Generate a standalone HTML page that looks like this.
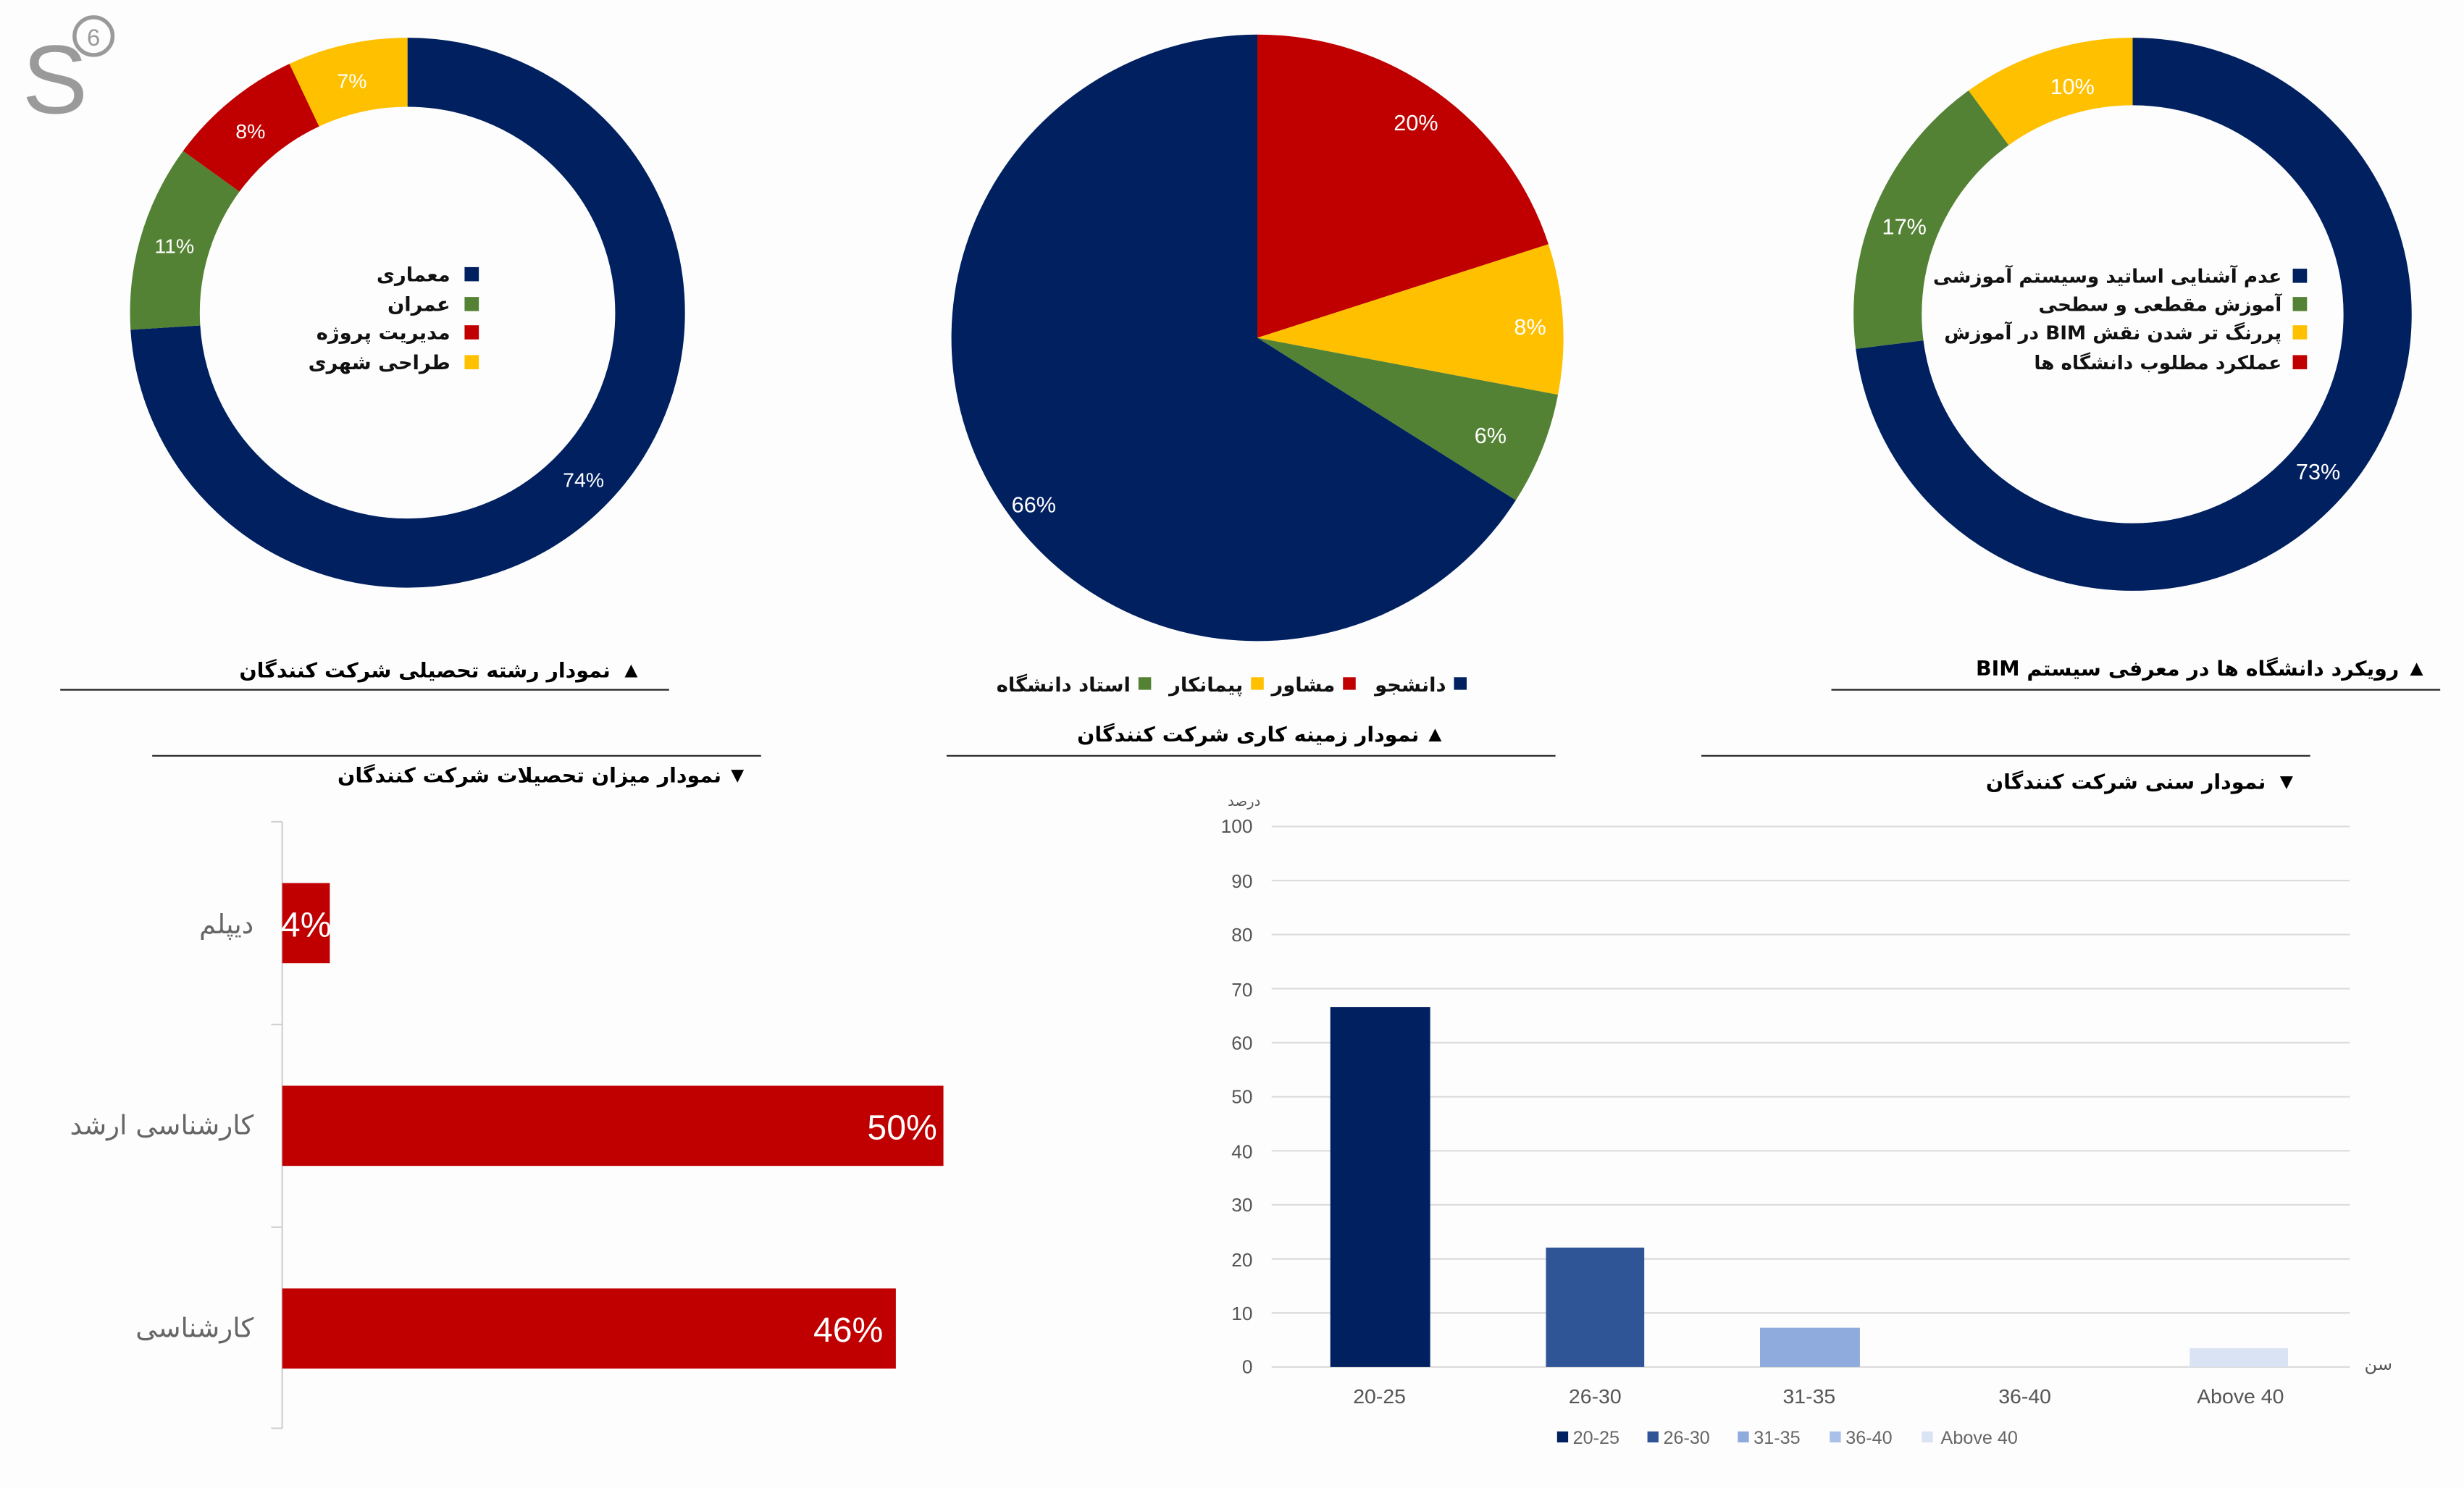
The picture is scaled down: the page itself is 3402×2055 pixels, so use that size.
<!DOCTYPE html>
<html><head><meta charset="utf-8"><style>
html,body{margin:0;padding:0;background:#fff;}
svg{display:block;}
.fa{font-family:"DejaVu Sans","Liberation Sans",sans-serif;}
.la{font-family:"Liberation Sans","DejaVu Sans",sans-serif;}
</style></head><body>
<svg width="3402" height="2055" viewBox="0 0 1554 947" preserveAspectRatio="none" xmlns="http://www.w3.org/2000/svg">
<rect width="1554" height="947" fill="#fdfdfd"/>
<!-- logo -->
<text x="14" y="72" class="la" font-size="62" fill="#9a9a9a">S</text>
<circle cx="59" cy="23" r="12" fill="none" stroke="#9a9a9a" stroke-width="2.5"/>
<text x="59" y="29" class="la" font-size="15" fill="#9a9a9a" text-anchor="middle">6</text>

<!-- Donut 1 -->
<g transform="rotate(-90 257 199)" fill="none" stroke-width="44">
<circle cx="257" cy="199" r="153" stroke="#002060" stroke-dasharray="711.4 961.3" stroke-dashoffset="0"/>
<circle cx="257" cy="199" r="153" stroke="#548235" stroke-dasharray="105.7 961.3" stroke-dashoffset="-711.4"/>
<circle cx="257" cy="199" r="153" stroke="#c00000" stroke-dasharray="76.9 961.3" stroke-dashoffset="-817.1"/>
<circle cx="257" cy="199" r="153" stroke="#ffc000" stroke-dasharray="67.3 961.3" stroke-dashoffset="-894.0"/>
</g>
<g class="la" font-size="13" fill="#fff" text-anchor="middle">
<text x="368" y="310">74%</text><text x="110" y="161">11%</text><text x="158" y="88">8%</text><text x="222" y="56">7%</text>
</g>
<g class="fa" font-size="12.5" font-weight="bold" fill="#111" text-anchor="end">
<rect x="293" y="170" width="9" height="9" fill="#002060"/><text x="284" y="179">معماری</text>
<rect x="293" y="189" width="9" height="9" fill="#548235"/><text x="284" y="198">عمران</text>
<rect x="293" y="207" width="9" height="9" fill="#c00000"/><text x="284" y="216">مدیریت پروژه</text>
<rect x="293" y="226" width="9" height="9" fill="#ffc000"/><text x="284" y="235">طراحی شهری</text>
</g>
<text x="405" y="431" class="la" font-size="14" text-anchor="end">▲</text>
<text x="385" y="431" class="fa" font-size="13" font-weight="bold" text-anchor="end">نمودار رشته تحصیلی شرکت کنندگان</text>
<line x1="38" y1="439" x2="422" y2="439" stroke="#222" stroke-width="1"/>

<!-- Pie -->
<path d="M793 215 L793 22 A193 193 0 0 1 976.6 155.4 Z" fill="#c00000"/>
<path d="M793 215 L976.6 155.4 A193 193 0 0 1 982.6 251.2 Z" fill="#ffc000"/>
<path d="M793 215 L982.6 251.2 A193 193 0 0 1 956.0 318.4 Z" fill="#548235"/>
<path d="M793 215 L956.0 318.4 A193 193 0 1 1 793 22 Z" fill="#002060"/>
<g class="la" font-size="14" fill="#fff" text-anchor="middle">
<text x="893" y="83">20%</text><text x="965" y="213">8%</text><text x="940" y="282">6%</text><text x="652" y="326">66%</text>
</g>
<g class="fa" font-size="12.5" font-weight="bold" fill="#111" text-anchor="end">
<rect x="917" y="431" width="8" height="8" fill="#002060"/><text x="912" y="440">دانشجو</text>
<rect x="847" y="431" width="8" height="8" fill="#c00000"/><text x="842" y="440">مشاور</text>
<rect x="789" y="431" width="8" height="8" fill="#ffc000"/><text x="784" y="440">پیمانکار</text>
<rect x="718" y="431" width="8" height="8" fill="#548235"/><text x="713" y="440">استاد دانشگاه</text>
</g>
<text x="912" y="472" class="la" font-size="14" text-anchor="end">▲</text>
<text x="895" y="472" class="fa" font-size="13" font-weight="bold" text-anchor="end">نمودار زمینه کاری شرکت کنندگان</text>
<line x1="597" y1="481" x2="981" y2="481" stroke="#222" stroke-width="1"/>

<!-- Donut 3 -->
<g transform="rotate(-90 1345 200)" fill="none" stroke-width="43">
<circle cx="1345" cy="200" r="154.5" stroke="#002060" stroke-dasharray="708.6 970.8" stroke-dashoffset="0"/>
<circle cx="1345" cy="200" r="154.5" stroke="#548235" stroke-dasharray="165.0 970.8" stroke-dashoffset="-708.6"/>
<circle cx="1345" cy="200" r="154.5" stroke="#ffc000" stroke-dasharray="97.2 970.8" stroke-dashoffset="-873.6"/>
</g>
<g class="la" font-size="14" fill="#fff" text-anchor="middle">
<text x="1462" y="305">73%</text><text x="1201" y="149">17%</text><text x="1307" y="60">10%</text>
</g>
<g class="fa" font-size="12" font-weight="bold" fill="#111" text-anchor="end">
<rect x="1446" y="171" width="9" height="9" fill="#002060"/><text x="1439" y="180">عدم آشنایی اساتید وسیستم آموزشی</text>
<rect x="1446" y="189" width="9" height="9" fill="#548235"/><text x="1439" y="198">آموزش مقطعی و سطحی</text>
<rect x="1446" y="207" width="9" height="9" fill="#ffc000"/><text x="1439" y="216" direction="rtl" text-anchor="start">پررنگ تر شدن نقش BIM در آموزش</text>
<rect x="1446" y="226" width="9" height="9" fill="#c00000"/><text x="1439" y="235">عملکرد مطلوب دانشگاه ها</text>
</g>
<text x="1531" y="430" class="la" font-size="14" text-anchor="end">▲</text>
<text x="1513" y="430" class="fa" font-size="13" font-weight="bold" direction="rtl" text-anchor="start">رویکرد دانشگاه ها در معرفی سیستم BIM</text>
<line x1="1155" y1="439" x2="1539" y2="439" stroke="#222" stroke-width="1"/>

<!-- Bottom-left horizontal bars -->
<line x1="96" y1="481" x2="480" y2="481" stroke="#222" stroke-width="1"/>
<text x="472" y="498" class="la" font-size="14" text-anchor="end">▼</text>
<text x="455" y="498" class="fa" font-size="13" font-weight="bold" text-anchor="end">نمودار میزان تحصیلات شرکت کنندگان</text>
<g stroke="#d0d0d0" stroke-width="1">
<line x1="178" y1="523" x2="178" y2="909"/>
<line x1="171" y1="523" x2="178" y2="523"/><line x1="171" y1="652" x2="178" y2="652"/>
<line x1="171" y1="781" x2="178" y2="781"/><line x1="171" y1="909" x2="178" y2="909"/>
</g>
<rect x="178" y="562" width="30" height="51" fill="#c00000"/>
<rect x="178" y="691" width="417" height="51" fill="#c00000"/>
<rect x="178" y="820" width="387" height="51" fill="#c00000"/>
<g class="la" font-size="22" fill="#fff" text-anchor="end">
<text x="209" y="596">4%</text><text x="591" y="725">50%</text><text x="557" y="854">46%</text>
</g>
<g class="fa" font-size="17" fill="#666" text-anchor="end">
<text x="160" y="594">دیپلم</text><text x="160" y="722">کارشناسی ارشد</text><text x="160" y="851">کارشناسی</text>
</g>

<!-- Column chart -->
<line x1="1073" y1="481" x2="1457" y2="481" stroke="#222" stroke-width="1"/>
<text x="1449" y="502" class="la" font-size="14" text-anchor="end">▼</text>
<text x="1429" y="502" class="fa" font-size="13" font-weight="bold" text-anchor="end">نمودار سنی شرکت کنندگان</text>
<text x="795" y="513" class="fa" font-size="9" fill="#555" text-anchor="end">درصد</text>
<g stroke="#dcdcdc" stroke-width="1">
<line x1="802" y1="526" x2="1482" y2="526"/><line x1="802" y1="560.4" x2="1482" y2="560.4"/>
<line x1="802" y1="594.8" x2="1482" y2="594.8"/><line x1="802" y1="629.2" x2="1482" y2="629.2"/>
<line x1="802" y1="663.6" x2="1482" y2="663.6"/><line x1="802" y1="698" x2="1482" y2="698"/>
<line x1="802" y1="732.4" x2="1482" y2="732.4"/><line x1="802" y1="766.8" x2="1482" y2="766.8"/>
<line x1="802" y1="801.2" x2="1482" y2="801.2"/><line x1="802" y1="835.6" x2="1482" y2="835.6"/>
<line x1="802" y1="870" x2="1482" y2="870"/>
</g>
<g class="la" font-size="12" fill="#555" text-anchor="end">
<text x="790" y="530">100</text><text x="790" y="565">90</text><text x="790" y="599">80</text>
<text x="790" y="634">70</text><text x="790" y="668">60</text><text x="790" y="702">50</text>
<text x="790" y="737">40</text><text x="790" y="771">30</text><text x="790" y="806">20</text>
<text x="790" y="840">10</text><text x="790" y="874">0</text>
</g>
<rect x="839" y="641" width="63" height="229" fill="#002060"/>
<rect x="975" y="794" width="62" height="76" fill="#2f5597"/>
<rect x="1110" y="845" width="63" height="25" fill="#8faadc"/>
<rect x="1381" y="858" width="62" height="12" fill="#dae3f3"/>
<g class="la" font-size="13" fill="#555" text-anchor="middle">
<text x="870" y="893">20-25</text><text x="1006" y="893">26-30</text><text x="1141" y="893">31-35</text>
<text x="1277" y="893">36-40</text><text x="1413" y="893">Above 40</text>
</g>
<text x="1500" y="872" class="fa" font-size="11" fill="#555" text-anchor="middle">سن</text>
<g class="la" font-size="11.5" fill="#666">
<rect x="982" y="911" width="7" height="7" fill="#002060"/><text x="992" y="919">20-25</text>
<rect x="1039" y="911" width="7" height="7" fill="#2f5597"/><text x="1049" y="919">26-30</text>
<rect x="1096" y="911" width="7" height="7" fill="#8faadc"/><text x="1106" y="919">31-35</text>
<rect x="1154" y="911" width="7" height="7" fill="#a9c1e8"/><text x="1164" y="919">36-40</text>
<rect x="1212" y="911" width="7" height="7" fill="#dae3f3"/><text x="1224" y="919">Above 40</text>
</g>
</svg>
</body></html>
